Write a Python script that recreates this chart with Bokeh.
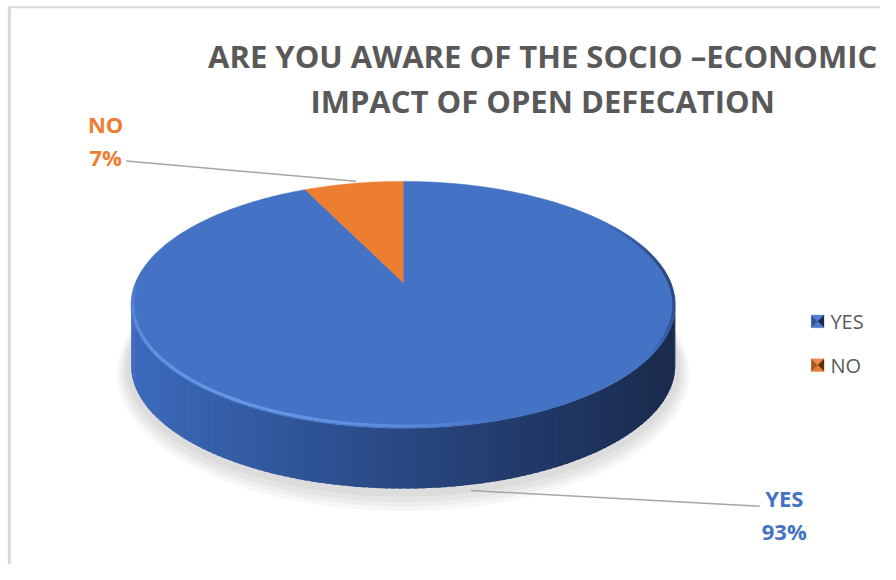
import numpy as np
from bokeh.plotting import figure
from bokeh.models import Range1d
from bokeh.core.properties import value
from bokeh.embed import file_html
from bokeh.resources import INLINE

# ---- data ----
categories = ["YES", "NO"]
values = [93, 7]
colors = ["#4472C4", "#ED7D31"]
title_lines = ["ARE YOU AWARE OF THE SOCIO \u2013ECONOMIC", "IMPACT OF OPEN DEFECATION"]

FONT = "Open Sans"
GRAY = "#595959"

p = figure(width=880, height=564, x_range=Range1d(0, 896), y_range=Range1d(580, 0),
           output_backend="svg", toolbar_location=None, min_border=0)
p.axis.visible = False
p.grid.visible = False
p.outline_line_color = None
p.background_fill_color = "white"
p.border_fill_color = "white"

# ---- 3D pie projection (perspective disc) ----
CX, CY = 410, 290
A, B, E = 272.5, 122.8, 0.181
DEPTH = 62


def proj(theta_deg, dy=0.0, grow=0.0):
    t = np.radians(np.asarray(theta_deg, dtype=float))
    u = np.sin(t)
    v = -np.cos(t)
    w = 1 - E * v
    x = CX + (A + grow) * u / w
    y = CY + (B + grow) * v / w + dy
    return x, y


def hexmix(c1, c2, f):
    a = [int(c1[i:i + 2], 16) for i in (1, 3, 5)]
    b = [int(c2[i:i + 2], 16) for i in (1, 3, 5)]
    return "#%02x%02x%02x" % tuple(int(round(a[k] + (b[k] - a[k]) * f)) for k in range(3))


# soft shadow under the pie
full = np.linspace(0, 360, 241)
for grow, dy, alpha in [(14, 6, 0.18), (11, 5, 0.22), (8, 4, 0.28), (5, 2, 0.4)]:
    sx, sy = proj(full, dy=DEPTH + dy, grow=grow)
    p.patch(sx, sy, fill_color="#d0d0d0", fill_alpha=alpha, line_color=None)

# side wall (front visible part, belongs to the YES slice)
th_l = 360 - np.degrees(np.arccos(-E))
th_r = np.degrees(np.arccos(-E))
ths = np.linspace(th_r, th_l, 121)
x_all, _ = proj(ths)
xmin, xmax = x_all.min(), x_all.max()
stops = [(0.0, "#3d6abd"), (0.3, "#2f5598"), (0.55, "#27447c"), (0.8, "#1f3561"), (1.0, "#1a2a4c")]


def side_color(f):
    for (f0, c0), (f1, c1) in zip(stops[:-1], stops[1:]):
        if f <= f1:
            return hexmix(c0, c1, (f - f0) / (f1 - f0))
    return stops[-1][1]


xs, ys, cs = [], [], []
for i in range(len(ths) - 1):
    t0, t1 = ths[i], ths[i + 1] + (0.8 if i < len(ths) - 2 else 0)
    x0, y0 = proj(t0)
    x1, y1 = proj(t1)
    xs.append([float(x0), float(x1), float(x1), float(x0)])
    ys.append([float(y0), float(y1), float(y1) + DEPTH, float(y0) + DEPTH])
    xm = (x0 + x1) / 2
    cs.append(side_color(float((xm - xmin) / (xmax - xmin))))
p.patches(xs, ys, fill_color=cs, line_color=None)

# top faces
total = sum(values)
start = 0.0
for cat, val, col in zip(categories, values, colors):
    end = start + 360.0 * val / total
    arc = np.linspace(start, end, max(int(val * 4), 8))
    ax, ay = proj(arc)
    px = np.concatenate([[CX], ax, [CX]])
    py = np.concatenate([[CY], ay, [CY]])
    p.patch(px, py, fill_color=col, line_color=col, line_width=0.5)
    start = end

# bevel: light highlight on front-left rim, dark rim on right
hl = np.linspace(165, 268, 60)
hx, hy = proj(hl, grow=-2)
segx = [[float(hx[i]), float(hx[i + 1])] for i in range(len(hl) - 1)]
segy = [[float(hy[i]), float(hy[i + 1])] for i in range(len(hl) - 1)]
alph = [float(np.sin(np.pi * (i + 0.5) / (len(hl) - 1)) ** 0.6 * 0.9) for i in range(len(hl) - 1)]
p.multi_line(segx, segy, line_color="#6a9cec", line_alpha=alph, line_width=3)

dk = np.linspace(55, 125, 40)
dx, dyy = proj(dk, grow=-1.5)
segx = [[float(dx[i]), float(dx[i + 1])] for i in range(len(dk) - 1)]
segy = [[float(dyy[i]), float(dyy[i + 1])] for i in range(len(dk) - 1)]
alph = [float(np.sin(np.pi * (i + 0.5) / (len(dk) - 1)) * 0.7) for i in range(len(dk) - 1)]
p.multi_line(segx, segy, line_color="#1f3561", line_alpha=alph, line_width=3)

# leader lines
p.line([128, 362], [165, 186], line_color="#a6a6a6", line_width=1.5)
p.line([479, 773], [504, 520], line_color="#a6a6a6", line_width=1.5)

# data labels
lab_pos = {"YES": (798, 512), "NO": (107, 127)}
for cat, val, col in zip(categories, values, colors):
    lx, ly = lab_pos[cat]
    p.text(x=[lx, lx], y=[ly, ly + 34], text=[cat, f"{val}%"], text_color=col,
           text_font=value(FONT), text_font_style="bold", text_font_size="22px",
           text_align="center", text_baseline="middle")

# title
p.text(x=[552, 552], y=[57, 103], text=title_lines, text_color=GRAY,
       text_font=value(FONT), text_font_style="bold", text_font_size="31px",
       text_align="center", text_baseline="middle")

# legend
leg_y = [330, 375]
bevels = {"YES": ["#4f7fd3", "#1a2a4a", "#4a78c8", "#2f5597"],
          "NO": ["#f08a46", "#5e3010", "#e37a2e", "#a9561c"]}
lx, h = 832, 6.5
for cat, yy in zip(categories, leg_y):
    tl, tr, br, bl = (lx - h, yy - h), (lx + h, yy - h), (lx + h, yy + h), (lx - h, yy + h)
    c = (lx, yy)
    tris = [(tl, tr), (tr, br), (br, bl), (bl, tl)]
    p.patches([[a[0], b[0], c[0]] for a, b in tris], [[a[1], b[1], c[1]] for a, b in tris],
              fill_color=bevels[cat], line_color=bevels[cat], line_width=0.3)
p.text(x=[845] * len(categories), y=leg_y, text=categories, text_color=GRAY,
       text_font=value(FONT), text_font_size="20px", text_align="left", text_baseline="middle")

# chart frame (left and top edges visible)
p.line([9, 9], [7, 580], line_color="#d9d9d9", line_width=3)
p.line([8, 896], [7, 7], line_color="#d9d9d9", line_width=2)

open("out.html", "w").write(file_html(p, INLINE))
